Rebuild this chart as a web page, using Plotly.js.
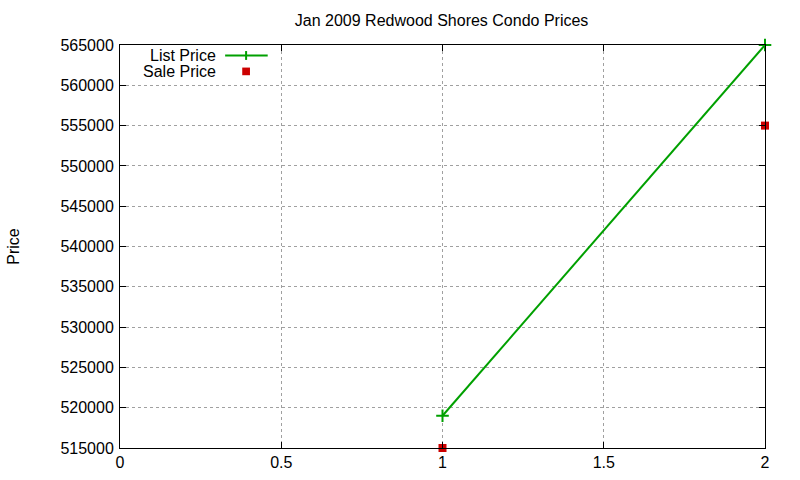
<!DOCTYPE html>
<html>
<head>
<meta charset="utf-8">
<script src="https://cdn.plot.ly/plotly-3.0.1.min.js"></script>
<style>
  html, body { margin: 0; padding: 0; background: #fff; }
  #chart { width: 800px; height: 480px; }
</style>
</head>
<body>
<div id="chart"></div>
<script>
  // values
  var listX = [1, 2];
  var listPrice = [519000, 565000];
  var saleX = [1, 2];
  var salePrice = [515000, 555000];
  var xTicks = [0, 0.5, 1, 1.5, 2];

  var green = "#00a000";
  var red = "#cc0000";
  var font = "Liberation Sans, Arial, sans-serif";
  var txt = { family: font, size: 16, color: "#000" };

  var traces = [
    {
      x: listX, y: listPrice, name: "List Price", type: "scatter", mode: "lines+markers",
      line: { color: green, width: 2 },
      marker: { symbol: "cross-thin", size: 9, color: green, line: { color: green, width: 2 } },
      cliponaxis: false
    },
    {
      x: saleX, y: salePrice, name: "Sale Price", type: "scatter", mode: "markers",
      marker: { symbol: "square", size: 8, color: red },
      cliponaxis: false
    }
  ];

  var axisBase = {
    showline: true, linecolor: "#000", linewidth: 1, mirror: "allticks",
    ticks: "inside", ticklen: 6, tickcolor: "#000",
    showgrid: true, gridcolor: "#a0a0a0", griddash: "dot", gridwidth: 1,
    zeroline: false, tickfont: txt
  };

  var layout = {
    width: 800, height: 480,
    margin: { l: 120, r: 35, t: 45, b: 32 },
    paper_bgcolor: "#fff", plot_bgcolor: "#fff",
    showlegend: false,
    title: { text: "Jan 2009 Redwood Shores Condo Prices", font: txt, x: 0.552, xanchor: "center", y: 0.958, yanchor: "middle" },
    xaxis: Object.assign({}, axisBase, {
      range: [0, 2], tickvals: xTicks, ticktext: xTicks.map(String)
    }),
    yaxis: Object.assign({}, axisBase, {
      range: [515000, 565000], dtick: 5000, tick0: 515000, tickformat: "d",
      ticklabelstandoff: 2,
      title: { text: "Price", font: txt, standoff: 36 }
    }),
    annotations: [
      { xref: "paper", yref: "paper", x: 0.152, y: 0.974, xanchor: "right", yanchor: "middle", text: "List Price", showarrow: false, font: txt },
      { xref: "paper", yref: "paper", x: 0.152, y: 0.934, xanchor: "right", yanchor: "middle", text: "Sale Price", showarrow: false, font: txt }
    ],
    shapes: [
      // legend key samples
      { type: "line", xref: "paper", yref: "paper", x0: 0.163, x1: 0.229, y0: 0.974, y1: 0.974, line: { color: green, width: 2 } },
      { type: "line", xref: "paper", yref: "paper", x0: 0.1955, x1: 0.1955, y0: 0.963, y1: 0.985, line: { color: green, width: 2 } },
      { type: "rect", xref: "paper", yref: "paper", x0: 0.1895, x1: 0.2015, y0: 0.925, y1: 0.944, fillcolor: red, line: { width: 0 } }
    ]
  };

  Plotly.newPlot("chart", traces, layout, { displayModeBar: false, staticPlot: true });
</script>
</body>
</html>
